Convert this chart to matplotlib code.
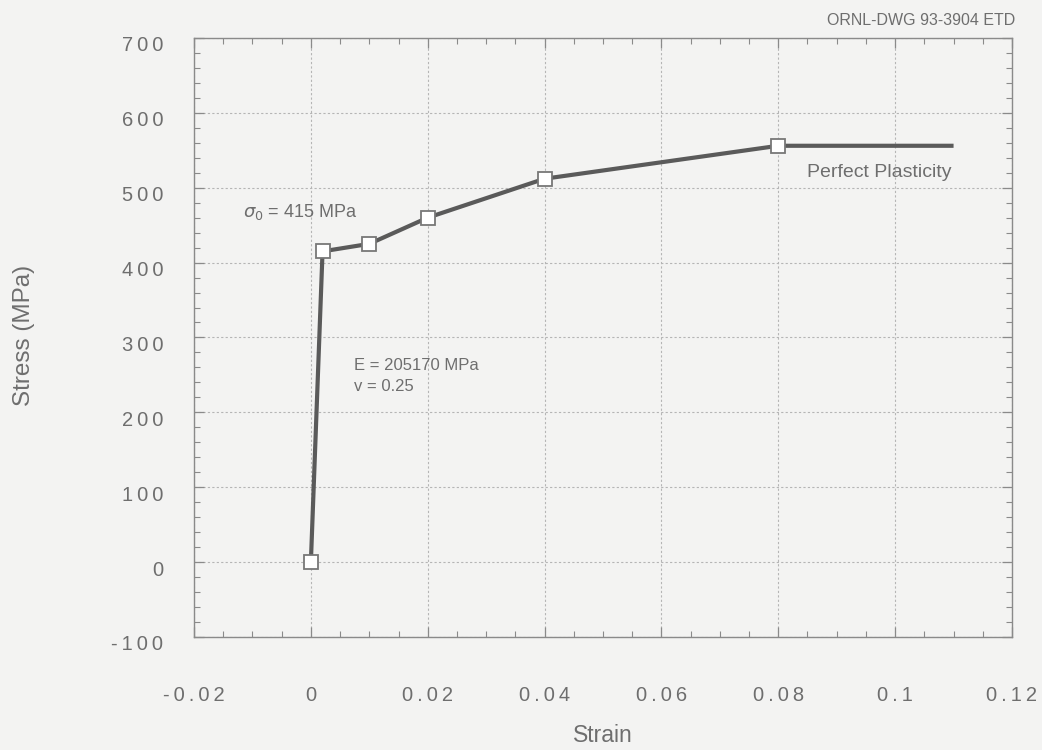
import matplotlib
matplotlib.use("Agg")
import matplotlib.pyplot as plt
from matplotlib.ticker import MultipleLocator, FixedFormatter, FixedLocator
from matplotlib.transforms import ScaledTranslation

plt.rcParams['font.family'] = ['Liberation Sans', 'DejaVu Sans']

# Stress-strain curve (multilinear hardening, then perfect plasticity)
strain = [0.0, 0.002, 0.01, 0.02, 0.04, 0.08, 0.11]
stress = [0, 415, 425, 460, 512, 556, 556]
n_marked = 6  # the plateau end point carries no marker

x_ticks = [-0.02, 0, 0.02, 0.04, 0.06, 0.08, 0.1, 0.12]
x_labels = ['-0.02', '0', '0.02', '0.04', '0.06', '0.08', '0.1', '0.12']
y_ticks = [-100, 0, 100, 200, 300, 400, 500, 600, 700]
y_labels = ['-100', '0', '100', '200', '300', '400', '500', '600', '700']


def spaced(s):
    # widely tracked lettering of the tick numbers
    return '\u2009'.join(s)


bg = '#f3f3f2'
txt = '#6e6e6e'
ink = '#5a5a5a'

fig = plt.figure(figsize=(10.42, 7.5), dpi=100, facecolor=bg)
ax = fig.add_axes([0.1862, 0.1507, 0.785, 0.7987], facecolor=bg)

ax.plot(strain, stress, color=ink, lw=3.0, solid_capstyle='butt', zorder=3)
ax.plot(strain[:n_marked], stress[:n_marked], ls='none', marker='s', ms=9.5,
        mfc='white', mec='#777777', mew=1.3, zorder=4)

ax.set_xlim(-0.02, 0.12)
ax.set_ylim(-100, 700)
ax.xaxis.set_major_locator(FixedLocator(x_ticks))
ax.xaxis.set_major_formatter(FixedFormatter([spaced(s) for s in x_labels]))
ax.yaxis.set_major_locator(FixedLocator(y_ticks))
ax.yaxis.set_major_formatter(FixedFormatter([spaced(s) for s in y_labels]))
ax.xaxis.set_minor_locator(MultipleLocator(0.005))
ax.yaxis.set_minor_locator(MultipleLocator(20))

ax.grid(True, which='major', color='#b5b5b5', lw=0.8, ls=(0, (2, 2)))
for s in ax.spines.values():
    s.set_color('#8a8a8a')
    s.set_linewidth(1.0)

ax.tick_params(which='both', direction='in', top=True, right=True,
               color='#8a8a8a')
ax.tick_params(which='major', length=7, width=0.9)
ax.tick_params(which='minor', length=4, width=0.8)
ax.tick_params(axis='x', which='major', pad=35, labelsize=14.5, labelcolor=txt)
ax.tick_params(axis='y', which='major', pad=22, labelsize=14.5, labelcolor=txt)

# y numbers sit slightly below their gridlines
shift = ScaledTranslation(0, -6 / 100, fig.dpi_scale_trans)
for lab in ax.get_yticklabels():
    lab.set_transform(lab.get_transform() + shift)

ax.set_xlabel('Strain', fontsize=16.5, color=txt, labelpad=14)
ax.set_ylabel('Stress (MPa)', fontsize=17.5, color=txt)
ax.yaxis.set_label_coords(-0.194, 0.503)

ax.text(-0.0116, 468, r'$\sigma_0$ = 415 MPa', fontsize=13, color=txt,
        va='center', ha='left')
ax.text(0.00735, 263, 'E = 205170 MPa', fontsize=12, color=txt,
        va='center', ha='left')
ax.text(0.00735, 234, 'v = 0.25', fontsize=12, color=txt,
        va='center', ha='left')
ax.text(0.085, 520, 'Perfect Plasticity', fontsize=14, color=txt,
        va='center', ha='left')

fig.text(0.974, 0.973, 'ORNL-DWG 93-3904 ETD', fontsize=11.5, color=txt,
         ha='right', va='center')

fig.savefig('out.png', dpi=100, facecolor=bg)
